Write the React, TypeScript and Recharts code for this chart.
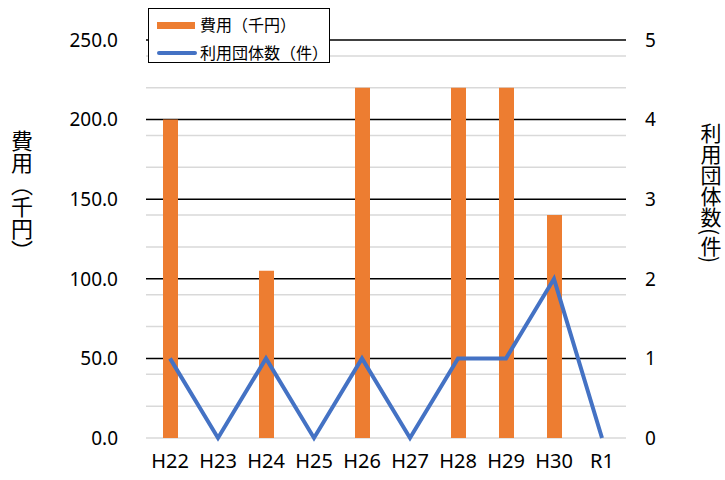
import { ComposedChart, Bar, Line, XAxis, YAxis, CartesianGrid } from 'recharts'

const categories = ['H22', 'H23', 'H24', 'H25', 'H26', 'H27', 'H28', 'H29', 'H30', 'R1']
const costs = [200, 0, 105, 0, 220, 0, 220, 220, 140, 0]
const groupCounts = [1, 0, 1, 0, 1, 0, 1, 1, 2, 0]

const costTicks = [0, 50, 100, 150, 200, 250]
const countTicks = [0, 1, 2, 3, 4, 5]
const minorGrid = [10, 20, 30, 40, 60, 70, 80, 90, 110, 120, 130, 140, 160, 170, 180, 190, 210, 220, 230, 240]
const majorGrid = [50, 100, 150, 200, 250]

const ORANGE = '#ED7D31'
const BLUE = '#4472C4'
const CJK = '"Noto Sans CJK JP", "Noto Sans", sans-serif'
const NUM = '"Noto Sans", "Open Sans", sans-serif'

const data = categories.map((name, i) => ({ name, cost: costs[i], count: groupCounts[i] }))

export default function App() {
  return (
    <div style={{ position: 'absolute', left: 0, top: 0, width: 725, height: 480, background: '#fff', overflow: 'hidden' }}>
      <ComposedChart width={725} height={480} data={data} margin={{ top: 40, right: 0, bottom: 0, left: 0 }}>
        <CartesianGrid yAxisId="cost" vertical={false} horizontalValues={minorGrid} stroke="#d9d9d9" strokeWidth={1.5} />
        <CartesianGrid yAxisId="cost" vertical={false} horizontalValues={[0]} stroke="#d9d9d9" strokeWidth={1.5} />
        <CartesianGrid yAxisId="cost" vertical={false} horizontalValues={majorGrid} stroke="#000" strokeWidth={1.5} />
        <XAxis
          dataKey="name"
          height={42}
          axisLine={false}
          tickLine={false}
          tickSize={0}
          tickMargin={16}
          tick={{ fontSize: 20, fill: '#000', fontFamily: '"Liberation Sans Narrow", "Noto Sans", sans-serif' }}
        />
        <YAxis
          yAxisId="cost"
          orientation="left"
          width={146}
          domain={[0, 250]}
          ticks={costTicks}
          tickFormatter={(v: number) => v.toFixed(1)}
          axisLine={false}
          tickLine={false}
          tickSize={0}
          tickMargin={28}
          tick={{ fontSize: 19, fill: '#000', fontFamily: NUM }}
        />
        <YAxis
          yAxisId="count"
          orientation="right"
          width={99}
          domain={[0, 5]}
          ticks={countTicks}
          axisLine={false}
          tickLine={false}
          tickSize={0}
          tickMargin={19}
          tick={{ fontSize: 19, fill: '#000', fontFamily: NUM }}
        />
        <Bar yAxisId="cost" dataKey="cost" fill={ORANGE} barSize={15} isAnimationActive={false} />
        <Line yAxisId="count" dataKey="count" type="linear" stroke={BLUE} strokeWidth={4} dot={false} isAnimationActive={false} />
      </ComposedChart>

      {/* legend */}
      <div
        style={{
          position: 'absolute',
          left: 148,
          top: 8,
          width: 182,
          height: 55,
          border: '1.5px solid #000',
          background: '#fff',
          fontFamily: CJK,
          fontSize: 16,
          color: '#000',
          boxSizing: 'border-box',
        }}
      >
        <div style={{ position: 'absolute', left: 8, top: 13, width: 38, height: 7, background: ORANGE }} />
        <div style={{ position: 'absolute', left: 51, top: 3, lineHeight: '24px', whiteSpace: 'nowrap' }}>費用（千円）</div>
        <div style={{ position: 'absolute', left: 8, top: 42, width: 40, height: 4, background: BLUE, borderRadius: 2 }} />
        <div style={{ position: 'absolute', left: 51, top: 31, lineHeight: '24px', whiteSpace: 'nowrap' }}>利用団体数（件）</div>
      </div>

      {/* axis titles */}
      <div
        style={{
          position: 'absolute',
          left: 10,
          top: 130,
          writingMode: 'vertical-rl',
          fontFamily: CJK,
          fontSize: 22,
          lineHeight: '24px',
          color: '#000',
        }}
      >
        費用（千円）
      </div>
      <div
        style={{
          position: 'absolute',
          left: 699,
          top: 123,
          writingMode: 'vertical-rl',
          fontFamily: CJK,
          fontSize: 21,
          lineHeight: '24px',
          color: '#000',
        }}
      >
        利用団体数(件)
      </div>
    </div>
  )
}
